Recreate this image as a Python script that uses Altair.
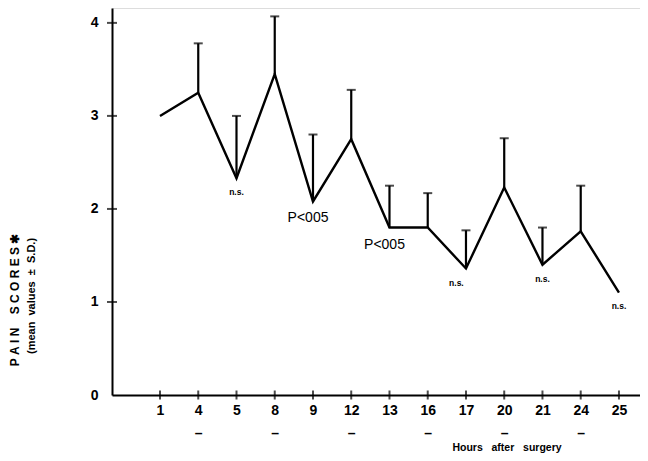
import altair as alt
import pandas as pd

hours = [1, 4, 5, 8, 9, 12, 13, 16, 17, 20, 21, 24, 25]
means = [3.0, 3.25, 2.33, 3.45, 2.08, 2.75, 1.80, 1.80, 1.36, 2.23, 1.40, 1.76, 1.10]
upper = [None, 3.78, 3.0, 4.07, 2.8, 3.28, 2.25, 2.17, 1.77, 2.76, 1.80, 2.25, None]
underlined = [4, 8, 12, 16, 20, 24]
y_ticks = [0, 1, 2, 3, 4]

ann_text = ["n.s.", "P<005", "P<005", "n.s.", "n.s.", "n.s."]
ann_pos = [2, 3.87, 5.87, 7.75, 10, 12]
ann_y = [2.18, 1.90, 1.61, 1.20, 1.25, 0.96]

W, H = 528, 387
X_DOM = [-1.255, 12.55]
Y_DOM = [0, 4.16]
FONT = "Liberation Sans"
NB = "\u00a0"

idx = list(range(len(hours)))
df = pd.DataFrame({"i": idx, "hour": hours, "mean": means, "upper": upper})
df_err = df.dropna(subset=["upper"])
df_ann = pd.DataFrame({"x": ann_pos, "y": ann_y, "t": ann_text})
df_yt = pd.DataFrame({"y": [v for v in y_ticks if v > 0]})

entries = []
for h in hours:
    if h in underlined:
        entries.append(f"['{h}','\u2013']")
    else:
        entries.append(f"'{h}'")
label_expr = "[" + ",".join(entries) + "][datum.value]"

xs = alt.Scale(domain=X_DOM, nice=False, zero=False)
ys = alt.Scale(domain=Y_DOM, nice=False)

x_axis = alt.Axis(values=idx, labelExpr=label_expr, ticks=False, tickSize=0, grid=False,
                  domainColor="black", domainWidth=2, labelFontSize=14, labelFontWeight="bold",
                  labelPadding=8, labelLineHeight=23, labelColor="black", title=None,
                  labelFont=FONT)
y_axis = alt.Axis(values=y_ticks, format="d", ticks=False, tickSize=0, grid=False,
                  domainColor="black", domainWidth=2, labelFontSize=14, labelFontWeight="bold",
                  labelPadding=14, labelColor="black", title=None, labelFont=FONT)

base = alt.Chart(df)

line = base.mark_line(color="black", strokeWidth=2.4).encode(
    x=alt.X("i:Q", scale=xs, axis=x_axis),
    y=alt.Y("mean:Q", scale=ys, axis=y_axis),
)

err = alt.Chart(df_err).mark_rule(color="black", strokeWidth=2.2).encode(
    x=alt.X("i:Q", scale=xs), y=alt.Y("mean:Q", scale=ys), y2="upper:Q"
)
caps = alt.Chart(df_err).mark_tick(color="black", orient="horizontal", size=9, thickness=2).encode(
    x=alt.X("i:Q", scale=xs), y=alt.Y("upper:Q", scale=ys)
)

ann_ns = alt.Chart(df_ann).transform_filter(alt.datum.t == "n.s.").mark_text(
    color="black", font=FONT, fontWeight="bold", fontSize=8.5
).encode(x=alt.X("x:Q", scale=xs), y=alt.Y("y:Q", scale=ys), text="t:N")
ann_p = alt.Chart(df_ann).transform_filter(alt.datum.t != "n.s.").mark_text(
    color="black", font=FONT, fontSize=14
).encode(x=alt.X("x:Q", scale=xs), y=alt.Y("y:Q", scale=ys), text="t:N")

xticks = alt.Chart(df).mark_tick(color="black", orient="vertical", size=9, thickness=2).encode(
    x=alt.X("i:Q", scale=xs), y=alt.value(H)
)
yticks = alt.Chart(df_yt).mark_tick(color="black", orient="horizontal", size=10, thickness=2).encode(
    y=alt.Y("y:Q", scale=ys), x=alt.value(0)
)

t1 = NB.join("PAIN") + NB * 4 + NB.join("SCORES") + NB + "\u2731"
t2 = "(mean" + NB * 2 + "values" + NB * 2 + "\u00b1" + NB * 2 + "S.D.)"
t3 = "Hours" + NB * 3 + "after" + NB * 3 + "surgery"

title1 = alt.Chart(pd.DataFrame({"t": [t1]})).mark_text(
    angle=270, fontSize=12, fontWeight="bold", font=FONT, color="black"
).encode(text="t:N", x=alt.value(-97), y=alt.value(292))
title2 = alt.Chart(pd.DataFrame({"t": [t2]})).mark_text(
    angle=270, fontSize=11, fontWeight="bold", font=FONT, color="black"
).encode(text="t:N", x=alt.value(-80), y=alt.value(288))
xtitle = alt.Chart(pd.DataFrame({"t": [t3]})).mark_text(
    fontSize=10.5, fontWeight="bold", font=FONT, color="black", baseline="bottom"
).encode(text="t:N", x=alt.value(395), y=alt.value(445))

chart = alt.layer(line, err, caps, ann_ns, ann_p, xticks, yticks, title1, title2, xtitle).properties(
    width=W, height=H,
    autosize=alt.AutoSizeParams(type="none"),
    padding={"left": 104, "top": 0, "right": 0, "bottom": 58},
).configure_view(stroke=None).configure(background="white")

chart.save("out.html", embed_options={"renderer": "svg", "actions": False})
